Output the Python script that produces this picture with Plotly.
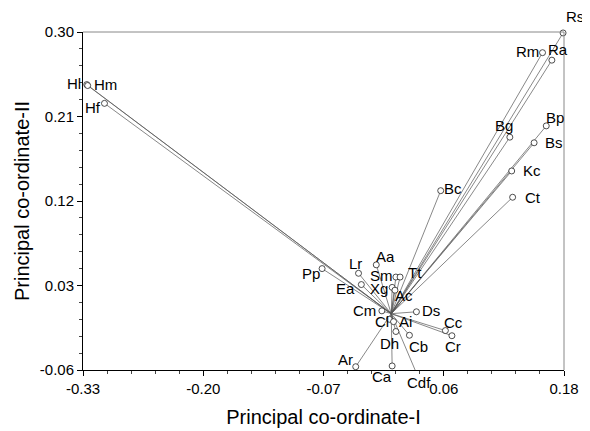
import plotly.graph_objects as go

names = ["Rs", "Ra", "Rm", "Bg", "Bp", "Bs", "Kc", "Ct", "Bc",
         "Hl", "Hm", "Hf",
         "Pp", "Lr", "Aa", "Sm", "Tt", "Ea", "Xg", "Ac", "Cm", "Ds",
         "Cl", "Ai", "Dh", "Cb", "Cc", "Cr", "Ar", "Ca", "Cdf"]
pc1 = [0.184, 0.172, 0.162, 0.127, 0.166, 0.153, 0.129, 0.130, 0.053,
       -0.326, -0.325, -0.307,
       -0.074, -0.035, -0.016, 0.005, 0.0095, -0.032, 0.001, 0.004, -0.010, 0.027,
       -0.002, 0.0025, 0.005, 0.0195, 0.058, 0.065, -0.038, 0.001, 0.026]
pc2 = [0.299, 0.270, 0.278, 0.188, 0.200, 0.182, 0.152, 0.124, 0.131,
       0.244, 0.243, 0.224,
       0.048, 0.043, 0.052, 0.039, 0.039, 0.031, 0.028, 0.025, 0.003, 0.002,
       -0.006, -0.0085, -0.019, -0.023, -0.018, -0.0235, -0.0565, -0.0557, -0.061]

x_ticks = [-0.33, -0.20125, -0.0725, 0.05625, 0.185]
x_labels = ["-0.33", "-0.20", "-0.07", "0.06", "0.18"]
y_ticks = [-0.06, 0.03, 0.12, 0.21, 0.30]
y_labels = ["-0.06", "0.03", "0.12", "0.21", "0.30"]

X_RANGE = [-0.33, 0.185]
Y_RANGE = [-0.06, 0.30]
PLOT_H = 338  # pixels of plot area height

# label offsets in pixels (dx, dy downwards)
offsets = {
    "Rs": (12, -16), "Ra": (6, -11), "Rm": (-15, -1), "Bg": (-6, -12),
    "Bp": (9, -8), "Bs": (20, 0), "Kc": (20, 0), "Ct": (20, 0), "Bc": (12, -2),
    "Hl": (-13, -1), "Hm": (18, -1), "Hf": (-11, 4),
    "Pp": (-11, 5), "Lr": (-3, -10), "Aa": (9, -8), "Sm": (-14, -2),
    "Tt": (15, -5), "Ea": (-16, 4), "Xg": (-13, 1), "Ac": (9, 5),
    "Cm": (-17, 0), "Ds": (15, -1), "Cl": (-7, 2), "Ai": (12, 0),
    "Dh": (-6, 12), "Cb": (9, 11), "Cc": (8, -8), "Cr": (1, 11),
    "Ar": (-10, -7), "Ca": (-10, 11), "Cdf": (3, 12),
}

lx, ly = [], []
for x, y in zip(pc1, pc2):
    lx += [0, x, None]
    ly += [0, y, None]

fig = go.Figure()
fig.add_trace(go.Scatter(x=lx, y=ly, mode="lines",
                         line=dict(color="#555555", width=0.7),
                         hoverinfo="skip", showlegend=False, cliponaxis=False))
fig.add_trace(go.Scatter(x=pc1, y=pc2, mode="markers", text=names,
                         marker=dict(symbol="circle", size=6, color="white",
                                     line=dict(color="#222222", width=0.8)),
                         showlegend=False, cliponaxis=False))

lab_font = dict(family="Liberation Sans, Arial", size=15, color="black")
ppu = PLOT_H / (Y_RANGE[1] - Y_RANGE[0])
for n, x, y in zip(names, pc1, pc2):
    dx, dy = offsets[n]
    ya = min(max(y, Y_RANGE[0]), Y_RANGE[1])
    extra = (y - ya) * ppu
    fig.add_annotation(x=x, y=ya, text=n, showarrow=False, xshift=dx,
                       yshift=-dy + extra, font=lab_font)

font = dict(family="Liberation Sans, Arial", size=15, color="black")
fig.update_layout(
    width=582, height=423,
    margin=dict(l=75, r=26, t=24, b=61),
    paper_bgcolor="white", plot_bgcolor="white",
    font=font,
    xaxis=dict(range=X_RANGE, tickvals=x_ticks, ticktext=x_labels,
               automargin=False,
               showgrid=False, zeroline=False, showline=True, linecolor="black",
               linewidth=1, ticks="outside", ticklen=5, tickcolor="black",
               minor=dict(ticks="outside", tick0=-0.33, dtick=0.02575, ticklen=3,
                          tickcolor="#444444", showgrid=False),
               title=dict(text="Principal co-ordinate-I", font=dict(size=20), standoff=13),
               tickfont=font),
    yaxis=dict(range=Y_RANGE, tickvals=y_ticks, ticktext=y_labels,
               automargin=False,
               showgrid=False, zeroline=False, showline=True, linecolor="black",
               linewidth=1, ticks="outside", ticklen=5, tickcolor="black",
               minor=dict(ticks="outside", tick0=-0.06, dtick=0.018, ticklen=3,
                          tickcolor="#444444", showgrid=False),
               title=dict(text="Principal co-ordinate-II", font=dict(size=20), standoff=4),
               tickfont=font),
)
fig.add_shape(type="line", xref="paper", yref="paper", x0=0, x1=1, y0=1, y1=1,
              line=dict(color="#888888", width=1))
fig.add_shape(type="line", xref="paper", yref="paper", x0=1, x1=1, y0=0, y1=1,
              line=dict(color="#888888", width=1))

fig.write_html("out.html")
